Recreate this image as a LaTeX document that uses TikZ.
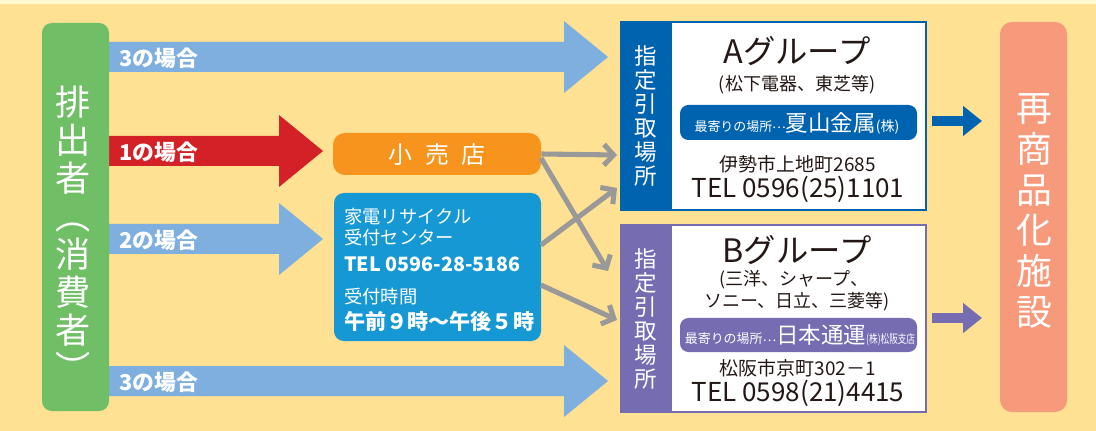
\documentclass[tikz,border=0pt]{standalone}
\usepackage{fontspec}
\usepackage{graphicx}
\setmainfont{Noto Sans CJK JP}
\usetikzlibrary{arrows.meta,fit,positioning}
\definecolor{paleyellow}{RGB}{255,248,208}
\definecolor{bgyellow}{RGB}{254,225,146}
\definecolor{consgreen}{RGB}{112,191,102}
\definecolor{caseblue}{RGB}{126,175,222}
\definecolor{casered}{RGB}{212,33,40}
\definecolor{shoporange}{RGB}{247,148,29}
\definecolor{infoblue}{RGB}{22,152,213}
\definecolor{ablue}{RGB}{0,99,175}
\definecolor{bpurple}{RGB}{117,108,178}
\definecolor{salmon}{RGB}{247,153,123}
\definecolor{flowgray}{RGB}{153,153,153}
\definecolor{inkblack}{RGB}{35,24,21}

% big case arrow: start x, tip x, centre y, colour
\newcommand\casearrow[4]{%
  \fill[#4] (#1,#3-15) -- (#2-44,#3-15) -- (#2-44,#3-36) -- (#2,#3)
    -- (#2-44,#3+36) -- (#2-44,#3+15) -- (#1,#3+15) -- cycle;}
\newcommand\midellip{\raisebox{0.32ex}{…}}

\begin{document}
\begin{tikzpicture}[x=0.025cm,y=-0.025cm,
  every node/.style={inner sep=0pt},
  caselabel/.style={anchor=west,text=white,font=\bfseries\fontsize{15.5}{16}\selectfont},
  vtext/.style={align=center,text=white},
  ink/.style={text=inkblack},
  flow/.style={draw=flowgray,line width=3.6pt,-{Straight Barb[length=2.4mm,width=5.2mm]}},
  outflow/.style={line width=7.8pt,-{Triangle[length=13.5pt,width=20.6pt]}}]
\useasboundingbox (0,0) rectangle (1096,431);
\fill[paleyellow] (0,0) rectangle (1096,431);
\fill[bgyellow] (0,4) rectangle (1096,431);

% arrows from the consumer
\casearrow{100}{608}{57}{caseblue}
\casearrow{100}{323}{151}{casered}
\casearrow{100}{323}{239}{caseblue}
\casearrow{100}{608}{381}{caseblue}
\node[caselabel] at (119,58) {3の場合};
\node[caselabel] at (119,152) {1の場合};
\node[caselabel] at (119,240) {2の場合};
\node[caselabel] at (119,382) {3の場合};

% consumer
\node[fit={(42,23) (109,411)},fill=consgreen,rounded corners=7pt] (cons) {};
\node[vtext,font=\fontsize{25}{27}\selectfont] at (73,234)
  {排\\出\\者\\︵\\消\\費\\者\\︶};

% retail shop and recycling centre
\node[fit={(333,133) (541,175)},fill=shoporange,rounded corners=8.5pt] (shop) {};
\node[text=white,font=\fontsize{17}{18}\selectfont] at (shop.center)
  {小\hspace{9pt}売\hspace{9pt}店};
\node[fit={(334,193) (541,341)},fill=infoblue,rounded corners=7pt] (info) {};
\node[anchor=west,text=white,font=\fontsize{13}{14}\selectfont] at (344,217) {家電リサイクル};
\node[anchor=west,text=white,font=\fontsize{13}{14}\selectfont] at (344,238) {受付センター};
\node[anchor=west,text=white,font=\bfseries\fontsize{14}{15}\selectfont] at (344,264) {TEL 0596-28-5186};
\node[anchor=west,text=white,font=\fontsize{13}{14}\selectfont] at (344,297) {受付時間};
\node[anchor=west,text=white,font=\bfseries\fontsize{15}{16}\selectfont] at (344,321) {午前９時～午後５時};

% group A
\node[fit={(621,22) (926,210)},fill=white,draw=ablue,line width=1.4pt] (agrp) {};
\fill[ablue] (621,22) rectangle (672,210);
\node[vtext,font=\fontsize{16}{17}\selectfont] at (646,116) {指\\定\\引\\取\\場\\所};
\node[ink,font=\fontsize{23}{24}\selectfont] at (797,51) {Aグループ};
\node[ink,font=\fontsize{12.8}{14}\selectfont] at (797,85) {(松下電器、東芝等)};
\node[fit={(680,105) (917,140)},fill=ablue,rounded corners=6pt] (apill) {};
\node[text=white] at (797,123) {\fontsize{9.2}{10}\selectfont 最寄りの場所\midellip\fontsize{16}{17}\selectfont 夏山金属\fontsize{10}{11}\selectfont (株)};
\node[ink,font=\fontsize{13.5}{14}\selectfont] at (798,164) {伊勢市上地町2685};
\node[ink,font=\fontsize{18.5}{19}\selectfont] at (798,189) {TEL 0596(25)1101};

% group B
\node[fit={(621,225) (926,412)},fill=white,draw=bpurple,line width=1.4pt] (bgrp) {};
\fill[bpurple] (621,225) rectangle (672,412);
\node[vtext,font=\fontsize{16}{17}\selectfont] at (646,319) {指\\定\\引\\取\\場\\所};
\node[ink,font=\fontsize{23}{24}\selectfont] at (797,250) {Bグループ};
\node[ink,font=\fontsize{12.8}{14}\selectfont] at (794,280) {(三洋、シャープ、};
\node[ink,font=\fontsize{12.8}{14}\selectfont] at (797,302) {ソニー、日立、三菱等)};
\node[fit={(680,318) (917,352)},fill=bpurple,rounded corners=6pt] (bpill) {};
\node[text=white] at (800,335) {\fontsize{9.2}{10}\selectfont 最寄りの場所\midellip\fontsize{16}{17}\selectfont 日本通運\scalebox{0.72}[1]{\fontsize{8.5}{9}\selectfont (株)松阪支店}};
\node[ink,font=\fontsize{13.5}{14}\selectfont] at (798,368) {松阪市京町302－1};
\node[ink,font=\fontsize{18.5}{19}\selectfont] at (798,393) {TEL 0598(21)4415};

% recycling plant
\node[fit={(1000,22) (1067,412)},fill=salmon,rounded corners=8.5pt] (plant) {};
\node[vtext,font=\fontsize{25.5}{29}\selectfont] at (1034,211) {再\\商\\品\\化\\施\\設};

% gray flows
\coordinate (s1) at (541,158);
\coordinate (i1) at (541,245);
\coordinate (i2) at (541,285);
\coordinate (a1) at (617,155);
\coordinate (a2) at (617,188);
\coordinate (b1) at (608,271);
\coordinate (b2) at (617,320);
\draw[flow] (shop.east) -- (a1);
\draw[flow] (s1) -- (b1);
\draw[flow] (i1) -- (a2);
\draw[flow] (i2) -- (b2);

% to the plant
\coordinate (ao) at (932,121);
\coordinate (ai) at (982,121);
\coordinate (bo) at (932,318);
\coordinate (bi) at (982,318);
\draw[outflow,ablue] (ao) -- (ai);
\draw[outflow,bpurple] (bo) -- (bi);
\end{tikzpicture}
\end{document}
